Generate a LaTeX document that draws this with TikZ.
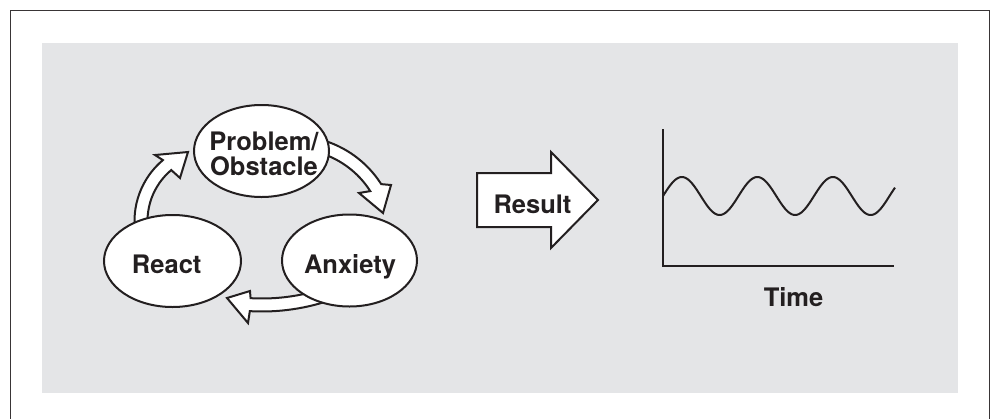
\documentclass[tikz,border=0pt]{standalone}
\usepackage{fontspec}
\setmainfont{TeX Gyre Heros}
\usetikzlibrary{shapes.geometric,calc}
\definecolor{panel}{RGB}{228,229,231}
\definecolor{ink}{RGB}{35,31,32}
\tikzset{
  bubble/.style={ellipse, draw=ink, fill=white, line width=2pt, inner sep=0pt},
  lbl/.style={font=\bfseries\fontsize{25.5}{25}\selectfont, text=ink, inner sep=0pt},
  hollow/.style={draw=ink, fill=white, line width=2pt, line join=miter},
  axisline/.style={draw=ink, line width=2pt},
}
\begin{document}
\begin{tikzpicture}[x=1pt, y=-1pt]
  % page and frame
  \useasboundingbox (0,0) rectangle (993,418);
  \draw[ink!90, line width=1.8pt] (10.5,420) -- (10.5,10.5) -- (989.5,10.5) -- (989.5,420);
  \fill[panel] (41.7,42.7) rectangle (957.7,393.3);

  % centres of the curved arrows
  \coordinate (c1) at (214,221);
  \coordinate (c2) at (293.5,240);
  \coordinate (c3) at (262,100);

  % React -> Problem/Obstacle
  \coordinate (h1a) at (155,155);
  \coordinate (h1t) at (188,152);
  \coordinate (h1b) at (180,178);
  \draw[hollow] ($(c1)+(170:79.5)$) arc[start angle=170, end angle=230, radius=79.5]
    -- (h1a) -- (h1t) -- (h1b)
    -- ($(c1)+(230:66.5)$) arc[start angle=230, end angle=170, radius=66.5] -- cycle;

  % Problem/Obstacle -> Anxiety
  \coordinate (h2a) at (391,185);
  \coordinate (h2t) at (383,213);
  \coordinate (h2b) at (359,193);
  \draw[hollow] ($(c2)+(285:104)$) arc[start angle=285, end angle=327.5, radius=104]
    -- (h2a) -- (h2t) -- (h2b)
    -- ($(c2)+(327.5:91)$) arc[start angle=327.5, end angle=285, radius=91] -- cycle;

  % Anxiety -> React
  \coordinate (h3a) at (248,323);
  \coordinate (h3t) at (227,298);
  \coordinate (h3b) at (250,291);
  \draw[hollow] ($(c3)+(70:211.5)$) arc[start angle=70, end angle=93.3, radius=211.5]
    -- (h3a) -- (h3t) -- (h3b)
    -- ($(c3)+(93.3:198.5)$) arc[start angle=93.3, end angle=70, radius=198.5] -- cycle;

  % the three states
  \node[bubble, minimum width=135pt, minimum height=92pt] (prob) at (261.5,151) {};
  \node[bubble, minimum width=137pt, minimum height=92pt] (react) at (172.5,261) {};
  \node[bubble, minimum width=135pt, minimum height=92pt] (anx) at (349.5,260.5) {};
  \node[lbl, align=center, anchor=north] (probtxt) at (264,131.5) {Problem/\\Obstacle};
  \node[lbl, anchor=base] (reacttxt) at (166.7,273.3) {React};
  \node[lbl, anchor=base] (anxtxt) at (350,273) {Anxiety};

  % result arrow
  \draw[hollow] (477,173) -- (551,173) -- (551,152) -- (598,200)
    -- (551,248) -- (551,227) -- (477,227) -- cycle;
  \node[lbl, anchor=base] (result) at (532.5,213) {Result};

  % graph over time
  \coordinate (origin) at (663,266);
  \coordinate (ytop) at (663,129);
  \coordinate (xend) at (894,266);
  \draw[axisline] (ytop) -- (origin) -- (xend);
  \draw[axisline, line join=round, shift={(origin)}] plot[domain=0:232, samples=160, smooth]
    (\x, {-70-19*sin(\x/75.5*360)});
  \node[lbl, anchor=base] (time) at (793.5,306) {Time};
\end{tikzpicture}
\end{document}
